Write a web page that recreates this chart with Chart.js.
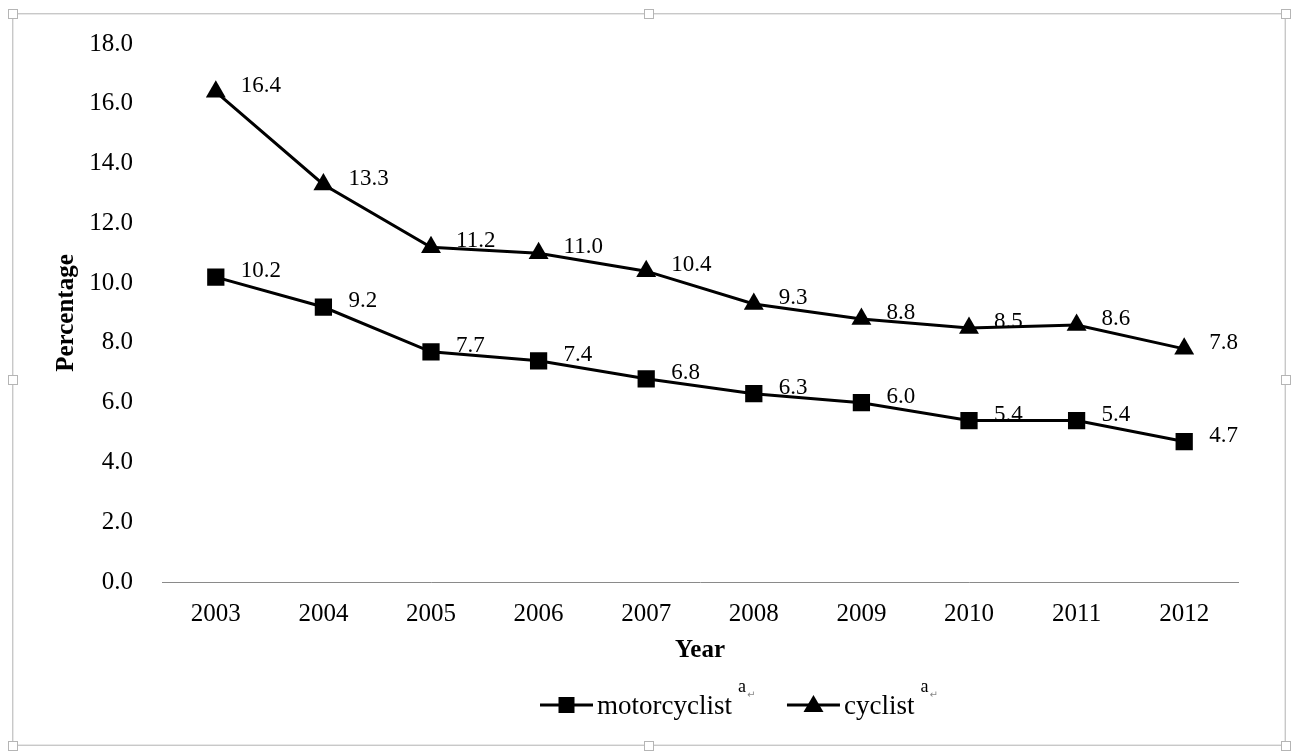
<!DOCTYPE html>
<html><head><meta charset="utf-8">
<script src="https://cdn.jsdelivr.net/npm/chart.js@4.4.0/dist/chart.umd.min.js"></script>
<style>
html,body{margin:0;padding:0;background:#fff;}
#wrap{position:relative;width:1292px;height:751px;overflow:hidden;}
canvas{position:absolute;left:0;top:0;}
.frame{position:absolute;left:12px;top:13px;width:1272px;height:731px;border:1px solid #c8c8c8;box-shadow:inset 0 0 0 1px #e8e8e8;}
.h{position:absolute;width:8px;height:8px;border:1px solid #b5b5b5;background:#fff;}
</style>
</head><body>
<div id="wrap">
<div class="frame"></div>
<div class="h" style="left:8px;top:9px"></div>
<div class="h" style="left:644px;top:9px"></div>
<div class="h" style="left:1281px;top:9px"></div>
<div class="h" style="left:8px;top:375px"></div>
<div class="h" style="left:1281px;top:375px"></div>
<div class="h" style="left:8px;top:741px"></div>
<div class="h" style="left:644px;top:741px"></div>
<div class="h" style="left:1281px;top:741px"></div>
<canvas id="c" width="1292" height="751"></canvas>
</div>
<script>
const years = ['2003','2004','2005','2006','2007','2008','2009','2010','2011','2012'];
const motorcyclist = [10.2, 9.2, 7.7, 7.4, 6.8, 6.3, 6.0, 5.4, 5.4, 4.7];
const cyclist = [16.4, 13.3, 11.2, 11.0, 10.4, 9.3, 8.8, 8.5, 8.6, 7.8];
const seriesNames = ['motorcyclist', 'cyclist'];
const yMin = 0, yMax = 18, yStep = 2;
const xTitle = 'Year';
const yTitle = 'Percentage';

const FONT = "'Liberation Serif', 'Times New Roman', serif";

const dataLabels = {
  id: 'dataLabels',
  afterDatasetsDraw(chart) {
    const ctx = chart.ctx;
    ctx.save();
    ctx.font = "23px " + FONT;
    ctx.fillStyle = '#000';
    ctx.textAlign = 'left';
    ctx.textBaseline = 'middle';
    chart.data.datasets.forEach((ds, i) => {
      const meta = chart.getDatasetMeta(i);
      meta.data.forEach((pt, j) => {
        ctx.fillText(ds.data[j].toFixed(1), pt.x + 25, pt.y - 6);
      });
    });
    ctx.restore();
  }
};

const customLegend = {
  id: 'customLegend',
  afterDraw(chart) {
    const ctx = chart.ctx;
    ctx.save();
    let x = 540;
    const y = 705;
    chart.data.datasets.forEach((ds, i) => {
      ctx.strokeStyle = '#000';
      ctx.lineWidth = 3;
      ctx.beginPath();
      ctx.moveTo(x, y); ctx.lineTo(x + 53, y); ctx.stroke();
      const mx = x + 26.5;
      ctx.fillStyle = '#000';
      if (ds.pointStyle === 'rect') {
        ctx.fillRect(mx - 8, y - 8, 16, 16);
      } else {
        ctx.beginPath();
        ctx.moveTo(mx, y - 10); ctx.lineTo(mx + 10, y + 7); ctx.lineTo(mx - 10, y + 7);
        ctx.closePath(); ctx.fill();
      }
      ctx.font = "27px " + FONT;
      ctx.textAlign = 'left';
      ctx.textBaseline = 'alphabetic';
      const tx = x + 57;
      ctx.fillText(ds.label, tx, 714);
      const tw = ctx.measureText(ds.label).width;
      ctx.font = "18px " + FONT;
      ctx.fillText('a', tx + tw + 6, 692);
      ctx.font = "10px 'DejaVu Sans'";
      ctx.fillStyle = '#888';
      ctx.fillText('\u21B5', tx + tw + 15, 698);
      x = tx + tw + 55;
    });
    ctx.restore();
  }
};

new Chart(document.getElementById('c'), {
  type: 'line',
  data: {
    labels: years,
    datasets: [
      { label: seriesNames[0], data: motorcyclist, borderColor: '#000', backgroundColor: '#000',
        borderWidth: 3, pointStyle: 'rect', pointRadius: 12.2, pointBorderWidth: 0, tension: 0 },
      { label: seriesNames[1], data: cyclist, borderColor: '#000', backgroundColor: '#000',
        borderWidth: 3, pointStyle: 'triangle', pointRadius: 11.5, pointBorderWidth: 0, tension: 0 }
    ]
  },
  options: {
    responsive: false,
    animation: false,
    events: [],
    layout: { padding: { top: 44, right: 54, left: 0, bottom: 0 } },
    plugins: { legend: { display: false }, tooltip: { enabled: false } },
    scales: {
      x: {
        offset: true,
        grid: { display: false, drawTicks: false },
        border: { display: true, color: '#8a8a8a', width: 1 },
        ticks: { color: '#000', font: { family: FONT, size: 25 }, padding: 17 },
        title: { display: true, text: xTitle, color: '#000', font: { family: FONT, size: 25, weight: 'bold' }, padding: { top: 0, bottom: 85 } },
        afterFit(s) { s.height = 169; }
      },
      y: {
        min: yMin, max: yMax,
        grid: { display: false, drawTicks: false },
        border: { display: false },
        ticks: { stepSize: yStep, color: '#000', font: { family: FONT, size: 25 }, padding: 29, callback: v => Number(v).toFixed(1) },
        title: { display: true, text: yTitle, color: '#000', font: { family: FONT, size: 25, weight: 'bold' }, padding: { top: 52, bottom: 0 } },
        afterFit(s) { s.width = 162; }
      }
    }
  },
  plugins: [dataLabels, customLegend]
});
</script>
</body></html>
